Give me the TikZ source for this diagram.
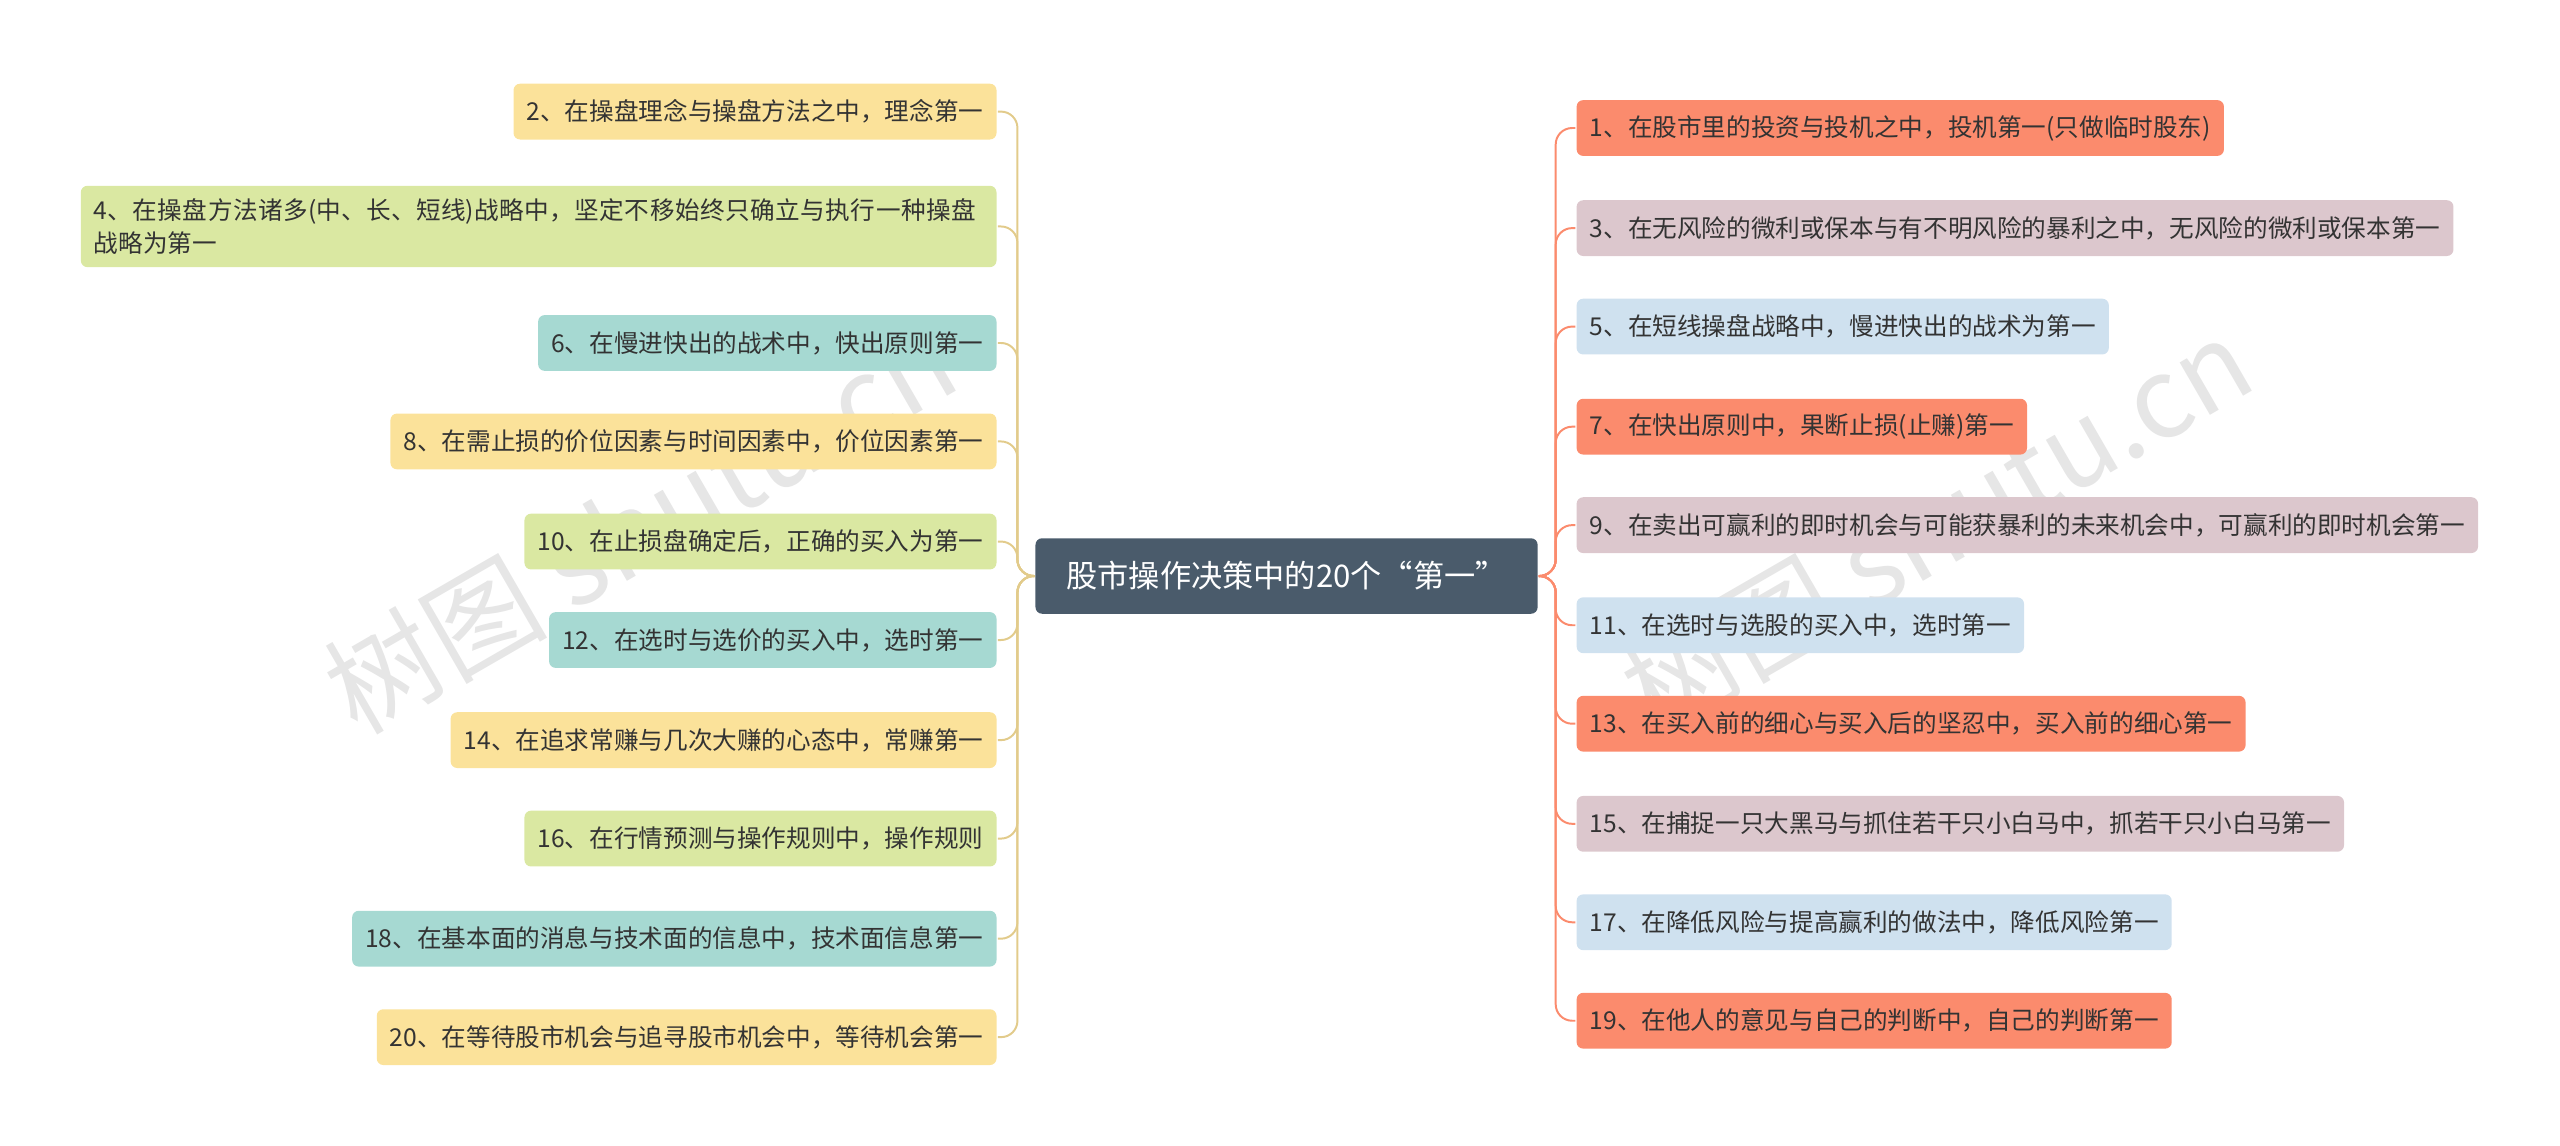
\documentclass[tikz,border=0pt]{standalone}
\usepackage{fontspec}
\setmainfont{Noto Sans CJK SC}
\XeTeXlinebreaklocale "zh"
\XeTeXlinebreakskip=0pt plus 1pt
\definecolor{cyel}{HTML}{FBE29A}
\definecolor{cgrn}{HTML}{DAE8A2}
\definecolor{ctea}{HTML}{A6D9D2}
\definecolor{cora}{HTML}{FB8B6D}
\definecolor{cmau}{HTML}{DCC7CD}
\definecolor{cblu}{HTML}{CFE1EF}
\definecolor{croot}{HTML}{4A5B6B}
\tikzset{every picture/.style={line width=0.75pt}}
\tikzset{
  leaf/.style={rounded corners=2pt, inner xsep=4pt, inner ysep=4pt, minimum height=17pt, font=\fontsize{7.5}{9.8}\selectfont, text=black!80},
  lnode/.style={leaf, anchor=east},
  rnode/.style={leaf, anchor=west},
  lline/.style={draw=cyel!90!black, rounded corners=5pt, line width=0.6pt},
  rline/.style={draw=cora, rounded corners=5pt, line width=0.6pt}
}
\begin{document}
\begin{tikzpicture}[x=0.5pt,y=0.5pt,yscale=-1,xscale=1]
	\useasboundingbox (0,0) rectangle (1560,698);
	% watermark
	\node[rotate=30, opacity=0.2, text=gray, font=\fontsize{34}{38}\selectfont] (wm1) at (390,320) {树图 shutu.cn};
	\node[rotate=30, opacity=0.2, text=gray, font=\fontsize{34}{38}\selectfont] (wm2) at (1180,320) {树图 shutu.cn};
	% root
	\node[fill=croot, rounded corners=2pt, text=white, font=\fontsize{9.5}{11}\selectfont, minimum width=153pt, minimum height=23pt] (root) at (784,351) {股市操作决策中的20个“第一”};
	% left side
	\node[lnode, fill=cyel] (l2) at (608,68) {2、在操盘理念与操盘方法之中，理念第一};
	\node[lnode, fill=cgrn, text width=271pt, align=left] (l4) at (608,138) {4、在操盘方法诸多(中、长、短线)战略中，坚定不移始终只确立与执行一种操盘战略为第一};
	\node[lnode, fill=ctea] (l6) at (608,209) {6、在慢进快出的战术中，快出原则第一};
	\node[lnode, fill=cyel] (l8) at (608,269) {8、在需止损的价位因素与时间因素中，价位因素第一};
	\node[lnode, fill=cgrn] (l10) at (608,330) {10、在止损盘确定后，正确的买入为第一};
	\node[lnode, fill=ctea] (l12) at (608,390) {12、在选时与选价的买入中，选时第一};
	\node[lnode, fill=cyel] (l14) at (608,451) {14、在追求常赚与几次大赚的心态中，常赚第一};
	\node[lnode, fill=cgrn] (l16) at (608,511) {16、在行情预测与操作规则中，操作规则};
	\node[lnode, fill=ctea] (l18) at (608,572) {18、在基本面的消息与技术面的信息中，技术面信息第一};
	\node[lnode, fill=cyel] (l20) at (608,632) {20、在等待股市机会与追寻股市机会中，等待机会第一};
	% right side
	\node[rnode, fill=cora] (r1) at (960,78) {1、在股市里的投资与投机之中，投机第一(只做临时股东)};
	\node[rnode, fill=cmau] (r3) at (960,139) {3、在无风险的微利或保本与有不明风险的暴利之中，无风险的微利或保本第一};
	\node[rnode, fill=cblu] (r5) at (960,199) {5、在短线操盘战略中，慢进快出的战术为第一};
	\node[rnode, fill=cora] (r7) at (960,260) {7、在快出原则中，果断止损(止赚)第一};
	\node[rnode, fill=cmau] (r9) at (960,320) {9、在卖出可赢利的即时机会与可能获暴利的未来机会中，可赢利的即时机会第一};
	\node[rnode, fill=cblu] (r11) at (960,381) {11、在选时与选股的买入中，选时第一};
	\node[rnode, fill=cora] (r13) at (960,441) {13、在买入前的细心与买入后的坚忍中，买入前的细心第一};
	\node[rnode, fill=cmau] (r15) at (960,502) {15、在捕捉一只大黑马与抓住若干只小白马中，抓若干只小白马第一};
	\node[rnode, fill=cblu] (r17) at (960,562) {17、在降低风险与提高赢利的做法中，降低风险第一};
	\node[rnode, fill=cora] (r19) at (960,622) {19、在他人的意见与自己的判断中，自己的判断第一};
	% connectors
	\coordinate (lt) at (620,351);
	\coordinate (rt) at (948,351);
	\foreach \n in {l2,l4,l6,l8,l10,l12,l14,l16,l18,l20}
		\draw[lline] (root.west) -- (lt) |- (\n.east);
	\foreach \n in {r1,r3,r5,r7,r9,r11,r13,r15,r17,r19}
		\draw[rline] (root.east) -- (rt) |- (\n.west);
\end{tikzpicture}
\end{document}
